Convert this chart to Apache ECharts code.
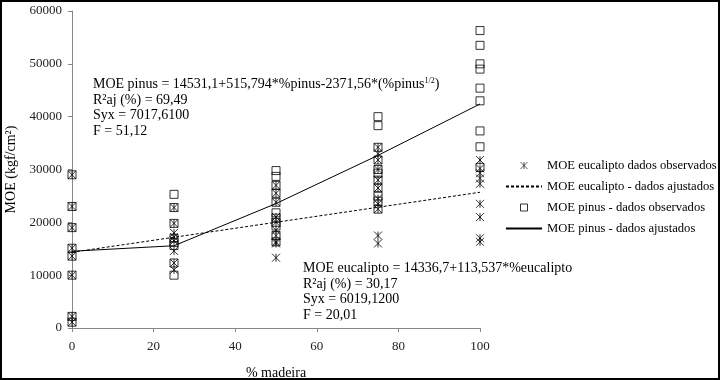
<!DOCTYPE html>
<html>
<head>
<meta charset="utf-8">
<script src="https://cdn.jsdelivr.net/npm/echarts@6/dist/echarts.min.js"></script>
<style>
html,body{margin:0;padding:0;background:#fff;}
#c{width:720px;height:380px;}
</style>
</head>
<body>
<div id="c"></div>
<script>
// % madeira positions
var xLevels = [0, 25, 50, 75, 100];
// observed values, eucalipto (kgf/cm2) per level
var eucObs0 = [29000, 23000, 19000, 15100, 13600, 10000, 2200, 1100];
var eucObs25 = [22800, 19800, 18000, 17200, 16500, 14600, 12300, 11000];
var eucObs50 = [27000, 25500, 23800, 21000, 20000, 18500, 17500, 16300, 16000, 13300];
var eucObs75 = [34200, 33000, 31800, 30000, 28000, 26500, 24500, 23500, 22500, 17500, 16000];
var eucObs100 = [31800, 30200, 29300, 28300, 27300, 23500, 21000, 17000, 16300];
// observed values, pinus
var pinObs0 = [29000, 23000, 19000, 15100, 13600, 10000, 2200, 1100];
var pinObs25 = [25300, 22800, 19800, 17000, 16200, 15600, 12300, 10000];
var pinObs50 = [29800, 28700, 27000, 25500, 23800, 21800, 20800, 20000, 19300, 17500, 16300];
var pinObs75 = [40000, 38300, 34200, 31800, 30000, 29300, 28000, 26500, 25000, 24000, 22500];
var pinObs100 = [56300, 53500, 50000, 49000, 45400, 43000, 37300, 34300, 30400];
// fitted values
var eucFit = [14337, 17175, 20014, 22852, 25691];
var pinFit = [14531, 15568, 23551, 32678, 42395];
// axis ticks
var xTicks = [0, 20, 40, 60, 80, 100];
var yTicks = [0, 10000, 20000, 30000, 40000, 50000, 60000];

var names = ['MOE eucalipto dados observados', 'MOE eucalipto - dados ajustados',
             'MOE pinus - dados observados', 'MOE pinus - dados ajustados'];

function pairs(groups) {
  var out = [];
  groups.forEach(function (g, i) {
    g.forEach(function (v) { out.push([xLevels[i], v]); });
  });
  return out;
}
function linePairs(vals) {
  return vals.map(function (v, i) { return [xLevels[i], v]; });
}

var serif = '"Liberation Serif", "Times New Roman", serif';
var starPath = 'path://M0,0L10,10M0,10L10,0M5,0L5,10';
var squarePath = 'path://M0,0L10,0L10,10L0,10Z';
var hidden = {color: 'rgba(0,0,0,0)', borderColor: 'rgba(0,0,0,0)', borderWidth: 0};

var chart = echarts.init(document.getElementById('c'), null, {renderer: 'canvas'});
chart.setOption({
  animation: false,
  backgroundColor: '#fff',
  textStyle: {fontFamily: serif},
  grid: {left: 72, right: 240, top: 11, bottom: 52, containLabel: false, outerBoundsMode: 'none'},
  xAxis: {
    type: 'value', min: xTicks[0], max: xTicks[xTicks.length - 1], interval: 20,
    name: '% madeira', nameLocation: 'middle', nameGap: 38,
    nameTextStyle: {fontFamily: serif, fontSize: 14, color: '#000'},
    axisLine: {show: true, lineStyle: {color: '#888', width: 1}},
    axisTick: {show: true, length: 4, lineStyle: {color: '#888'}},
    axisLabel: {fontFamily: serif, fontSize: 13, color: '#222', margin: 12},
    splitLine: {show: false}
  },
  yAxis: {
    type: 'value', min: yTicks[0], max: yTicks[yTicks.length - 1], interval: 10000,
    name: 'MOE (kgf/cm²)', nameLocation: 'middle', nameGap: 47, nameRotate: 90,
    nameTextStyle: {fontFamily: serif, fontSize: 14, color: '#000'},
    axisLine: {show: true, lineStyle: {color: '#888', width: 1}},
    axisTick: {show: true, length: 4, lineStyle: {color: '#888'}},
    axisLabel: {fontFamily: serif, fontSize: 13, color: '#222', margin: 10,
      formatter: function (v) { return String(v); }},
    splitLine: {show: false}
  },
  legend: {
    orient: 'vertical', left: 505, top: 159, padding: 0,
    itemWidth: 36, itemHeight: 7, itemGap: 8,
    textStyle: {fontFamily: serif, fontSize: 12.6, color: '#000'},
    data: [
      {name: names[0], icon: starPath, itemStyle: {color: 'rgba(0,0,0,0)', borderColor: '#000', borderWidth: 0.8}},
      {name: names[1], itemStyle: hidden},
      {name: names[2], icon: squarePath, itemStyle: {color: 'rgba(0,0,0,0)', borderColor: '#000', borderWidth: 1}},
      {name: names[3], itemStyle: hidden}
    ]
  },
  series: [
    {
      name: names[0], type: 'scatter', data: pairs([eucObs0, eucObs25, eucObs50, eucObs75, eucObs100]),
      symbol: starPath, symbolSize: 8,
      itemStyle: {color: 'rgba(0,0,0,0)', borderColor: '#000', borderWidth: 1},
      emphasis: {disabled: true}, z: 3
    },
    {
      name: names[1], type: 'line', data: linePairs(eucFit), symbol: 'none',
      lineStyle: {color: '#000', width: 1, type: [3, 2]},
      itemStyle: {color: '#000'},
      emphasis: {disabled: true}, z: 2
    },
    {
      name: names[2], type: 'scatter', data: pairs([pinObs0, pinObs25, pinObs50, pinObs75, pinObs100]),
      symbol: 'rect', symbolSize: 8,
      itemStyle: {color: 'rgba(0,0,0,0)', borderColor: '#000', borderWidth: 1},
      emphasis: {disabled: true}, z: 3
    },
    {
      name: names[3], type: 'line', data: linePairs(pinFit), symbol: 'none',
      lineStyle: {color: '#000', width: 1, type: 'solid'},
      itemStyle: {color: '#000'},
      emphasis: {disabled: true}, z: 2
    }
  ],
  graphic: [
    {
      type: 'rect', silent: true, z: 100,
      shape: {x: 1, y: 1, width: 718, height: 378},
      style: {fill: 'none', stroke: '#000', lineWidth: 2}
    },
    {
      type: 'text', x: 93, y: 77, silent: true, z: 50,
      style: {
        text: 'MOE pinus = 14531,1+515,794*%pinus-2371,56*(%pinus{sup|1/2})\nR²aj (%) = 69,49\nSyx = 7017,6100\nF = 51,12',
        font: '14px ' + serif, fill: '#000', lineHeight: 15.5,
        rich: {sup: {fontSize: 8, fontFamily: serif, fill: '#000', verticalAlign: 'top', lineHeight: 15.5, padding: [0, 0, 5, 0]}}
      }
    },
    {
      type: 'text', x: 303, y: 261, silent: true, z: 50,
      style: {
        text: 'MOE eucalipto = 14336,7+113,537*%eucalipto\nR²aj (%) = 30,17\nSyx = 6019,1200\nF = 20,01',
        font: '14px ' + serif, fill: '#000', lineHeight: 15.5
      }
    }
  ]
});
</script>
</body>
</html>
